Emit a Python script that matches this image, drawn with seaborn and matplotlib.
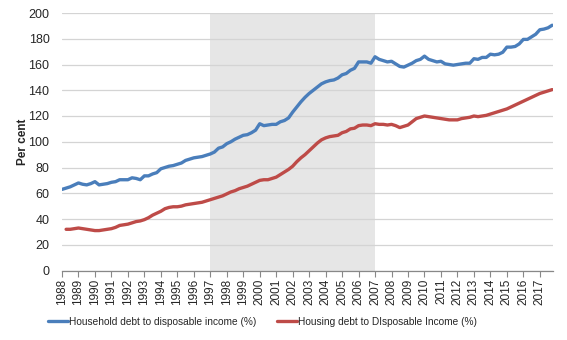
import numpy as np
import pandas as pd
import matplotlib
matplotlib.use("Agg")
import matplotlib.pyplot as plt
from matplotlib.lines import Line2D
import seaborn as sns

# Quarterly observations 1988Q1 .. 2017Q4
household = [
    63, 64, 65, 66.5,            # 1988
    68, 67, 66.5, 67.5,          # 1989
    69, 66.5, 67, 67.5,          # 1990
    68.5, 69, 70.5, 70.5,        # 1991
    70.5, 72, 71.5, 70.5,        # 1992
    73.5, 73.5, 75, 76,          # 1993
    79, 80, 81, 81.5,            # 1994
    82.5, 83.5, 85.5, 86.5,      # 1995
    87.5, 88, 88.5, 89.5,        # 1996
    90.5, 92, 95, 96,            # 1997
    98.5, 100, 102, 103.5,       # 1998
    105, 105.5, 107, 109,        # 1999
    114, 112.5, 113, 113.5,      # 2000
    113.5, 115.5, 116.5, 118.5,  # 2001
    123, 127, 131, 134.5,        # 2002
    137.5, 140, 142.5, 145,      # 2003
    146.5, 147.5, 148, 149.5,    # 2004
    152, 153, 155.5, 157,        # 2005
    162, 162, 162, 161,          # 2006
    166, 164, 163, 162,          # 2007
    162.5, 160.5, 158.5, 158,    # 2008
    159.5, 161, 163, 164,        # 2009
    166.5, 164, 163, 162,        # 2010
    162.5, 160.5, 160, 159.5,    # 2011
    160, 160.5, 161, 161,        # 2012
    164.5, 164, 165.5, 165.5,    # 2013
    168, 167.5, 168, 169.5,      # 2014
    173.5, 173.5, 174, 176,      # 2015
    179.5, 179.5, 181.5, 183.5,  # 2016
    187, 187.5, 188.5, 190.5,    # 2017
]

housing = [
    np.nan, 32, 32, 32.5,        # 1988
    33, 32.5, 32, 31.5,          # 1989
    31, 31, 31.5, 32,            # 1990
    32.5, 33.5, 35, 35.5,        # 1991
    36, 37, 38, 38.5,            # 1992
    39.5, 41, 43, 44.5,          # 1993
    46, 48, 49, 49.5,            # 1994
    49.5, 50, 51, 51.5,          # 1995
    52, 52.5, 53, 54,            # 1996
    55, 56, 57, 58,              # 1997
    59.5, 61, 62, 63.5,          # 1998
    64.5, 65.5, 67, 68.5,        # 1999
    70, 70.5, 70.5, 71.5,        # 2000
    72.5, 74.5, 76.5, 78.5,      # 2001
    81, 84.5, 87.5, 90,          # 2002
    93, 96, 99, 101.5,           # 2003
    103, 104, 104.5, 105,        # 2004
    107, 108, 110, 110.5,        # 2005
    112.5, 113, 113, 112.5,      # 2006
    114, 113.5, 113.5, 113,      # 2007
    113.5, 112.5, 111, 112,      # 2008
    113, 115.5, 118, 119,        # 2009
    120, 119.5, 119, 118.5,      # 2010
    118, 117.5, 117, 117,        # 2011
    117, 118, 118.5, 119,        # 2012
    120, 119.5, 120, 120.5,      # 2013
    121.5, 122.5, 123.5, 124.5,  # 2014
    125.5, 127, 128.5, 130,      # 2015
    131.5, 133, 134.5, 136,      # 2016
    137.5, 138.5, 139.5, 140.5,  # 2017
]

series_names = ["Household debt to disposable income (%)",
                "Housing debt to DIsposable Income (%)"]
year_labels = list(range(1988, 2018))
shade_start, shade_end = 1997, 2007

quarters = [1988 + i / 4 for i in range(len(household))]

df = pd.concat([
    pd.DataFrame({"t": quarters, "value": household, "series": series_names[0]}),
    pd.DataFrame({"t": quarters, "value": housing, "series": series_names[1]}),
]).dropna()

sns.set_theme(style="white")
plt.rcParams["font.family"] = ["Liberation Sans", "DejaVu Sans"]

fig = plt.figure(figsize=(5.67, 3.40), dpi=100)
ax = fig.add_axes([62 / 567, 1 - 270.5 / 340, (553 - 62) / 567, (270.5 - 13) / 340])

ax.axvspan(shade_start, shade_end, color="#e6e6e6", zorder=0.1, lw=0)

sns.lineplot(data=df, x="t", y="value", hue="series",
             palette=["#4a7ebb", "#be4b48"], linewidth=2.4, ax=ax,
             legend=False, zorder=3)

ax.set_xlim(1988, 2017.8)
ax.set_ylim(0, 200)
ax.set_yticks(range(0, 201, 20))
ax.set_xticks(year_labels)
ax.set_xticklabels([str(y) for y in year_labels], rotation=90, fontsize=8.5)
ax.tick_params(axis="y", labelsize=9, length=0, pad=9)
ax.tick_params(axis="x", length=4, width=0.8, color="#888888", direction="out",
               bottom=True, pad=2)
ax.set_axisbelow(True)
ax.yaxis.grid(True, color="#d4d4d4", linewidth=0.9)
ax.xaxis.grid(False)
for s in ["top", "right", "left"]:
    ax.spines[s].set_visible(False)
ax.spines["bottom"].set_color("#888888")
ax.spines["bottom"].set_linewidth(0.9)

ax.set_xlabel("")
ax.set_ylabel("Per cent", fontsize=8.5, fontweight="bold", labelpad=0)

handles = [Line2D([0], [0], color="#4a7ebb", lw=2.4),
           Line2D([0], [0], color="#be4b48", lw=2.4)]
fig.legend(handles, series_names, loc="center", bbox_to_anchor=(0.463, 0.053),
           ncol=2, frameon=False, fontsize=7.3, handlelength=2.0,
           handletextpad=0.1, columnspacing=2.0)

fig.savefig("out.png", dpi=100, facecolor="white")
